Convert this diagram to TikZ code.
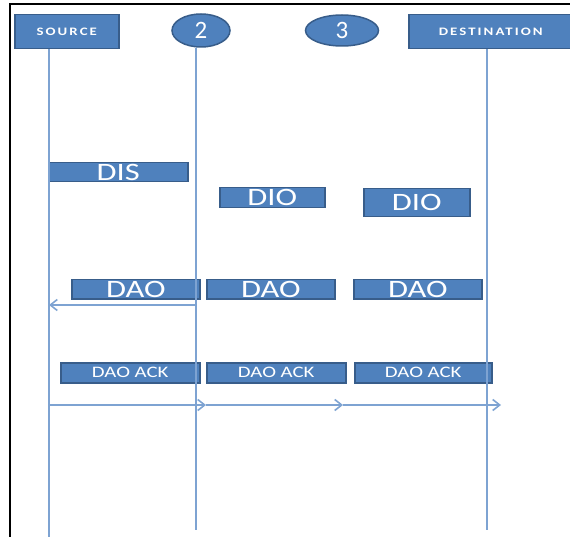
\documentclass[tikz,border=0pt]{standalone}
\usepackage{fontspec}
\usepackage{graphicx}
\setmainfont{Carlito}
\usetikzlibrary{shapes.geometric,arrows.meta}
\definecolor{boxfill}{HTML}{4F81BD}
\definecolor{boxedge}{HTML}{385D8A}
\definecolor{lifeline}{HTML}{7EA3D2}
\newcommand{\wide}[1]{\scalebox{1.3}[1]{#1}}

\begin{document}
\begin{tikzpicture}[x=1pt, y=-1pt, font=\fontsize{25}{25}\selectfont,
	msg/.style={draw=boxedge, fill=boxfill, text=white, line width=1.5pt, inner sep=0pt, anchor=north west, text height=16pt, text depth=0pt},
	head/.style={msg, font=\fontsize{11.4}{12}\selectfont\bfseries\addfontfeature{LetterSpace=14}, text height=7.4pt, minimum height=34pt},
	ack/.style={msg, font=\fontsize{16}{16}\selectfont, text height=10.4pt, minimum height=20pt},
	hop/.style={draw=boxedge, fill=boxfill, text=white, line width=1.5pt, ellipse, inner sep=0pt, text height=16pt, text depth=0pt},
	life/.style={draw=lifeline, line width=1.6pt},
	tip/.style={-{Straight Barb[length=7pt,width=11pt]}}]
	\useasboundingbox (0,0) rectangle (570,537);
	\draw[line width=2pt] (572,4.5) -- (9.5,4.5) -- (9.5,537);
	% nodes
	\node[head, minimum width=104pt] (src) at (14,14) {\wide{SOURCE}};
	\node[hop, minimum width=58pt, minimum height=33pt] (two) at (201,30.5) {2};
	\node[hop, minimum width=73pt, minimum height=31pt] (three) at (342,30.5) {3};
	\node[head, minimum width=164pt] (dst) at (408,14) {\wide{DESTINATION}};
	% messages
	\node[msg, minimum width=139pt, minimum height=19pt] (dis) at (48,162) {\wide{DIS}};
	\node[msg, minimum width=105pt, minimum height=20pt] (dio1) at (219,187) {\wide{DIO}};
	\node[msg, minimum width=106pt, minimum height=28pt] (dio2) at (363,188) {\wide{DIO}};
	\node[msg, minimum width=128pt, minimum height=19pt] (dao1) at (71,279) {\wide{DAO}};
	\node[msg, minimum width=128pt, minimum height=19pt] (dao2) at (206,279) {\wide{DAO}};
	\node[msg, minimum width=128pt, minimum height=19pt] (dao3) at (353,279) {\wide{DAO}};
	\node[ack, minimum width=139pt] (ack1) at (60,362) {\wide{DAO ACK}};
	\node[ack, minimum width=139pt] (ack2) at (206,362) {\wide{DAO ACK}};
	\node[ack, minimum width=137pt] (ack3) at (354,362) {\wide{DAO ACK}};
	% lifelines
	\coordinate (srcend) at (49,537);
	\coordinate (twoend) at (196,530);
	\coordinate (dstend) at (487,530);
	\draw[life] (srcend |- src.south) -- (srcend);
	\draw[life] (twoend |- two.south) -- (twoend);
	\draw[life] (dstend |- dst.south) -- (dstend);
	% arrows
	\coordinate (up2) at (196,305);
	\coordinate (up0) at (49,305);
	\draw[life, tip] (up2) -- (up0);
	\coordinate (dn0) at (49,405);
	\coordinate (dn1) at (206,405);
	\coordinate (dn2) at (343,405);
	\coordinate (dn3) at (501,405);
	\draw[life, tip] (dn0) -- (dn1);
	\draw[life, tip] (dn1) -- (dn2);
	\draw[life, tip] (dn2) -- (dn3);
\end{tikzpicture}
\end{document}
